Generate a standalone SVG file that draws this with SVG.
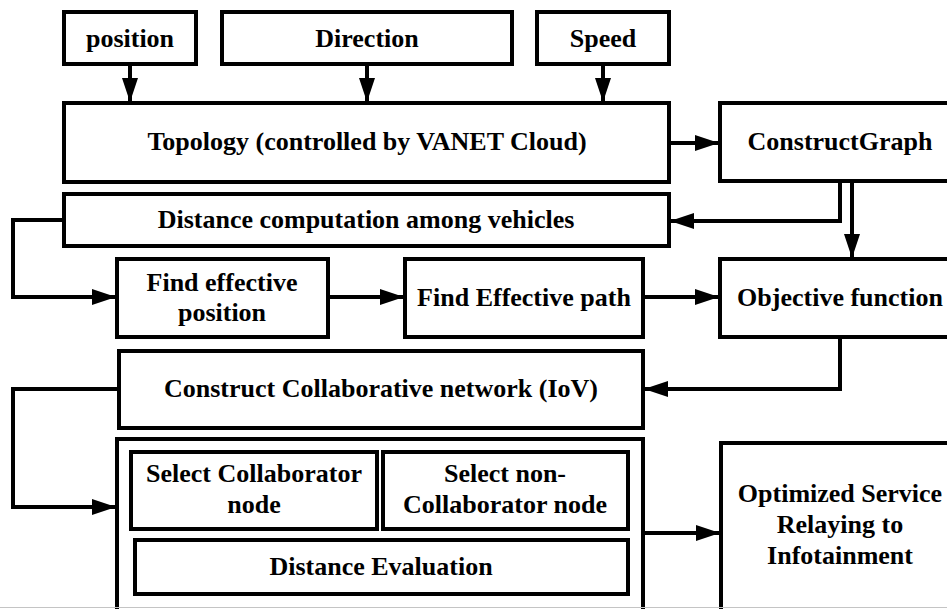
<svg xmlns="http://www.w3.org/2000/svg" width="947" height="609" viewBox="0 0 947 609">
  <style>
    .box { fill: #fff; stroke: #000; stroke-width: 4; }
    .lbl { font-family: "Liberation Serif", "Times New Roman", "DejaVu Serif", serif; font-weight: 700; font-size: 26px; fill: #000; text-anchor: middle; }
    .wire { fill: none; stroke: #000; stroke-width: 4; marker-end: url(#arrow); }
  </style>
  <defs>
    <marker id="arrow" markerUnits="userSpaceOnUse" markerWidth="24" markerHeight="16" refX="24" refY="8" orient="auto">
      <path d="M0,0 L24,8 L0,16 Z" fill="#000"/>
    </marker>
  </defs>
  <rect width="947" height="609" fill="#fff"/>

  <!-- inputs -->
  <g id="position">
    <rect class="box" x="64" y="12" width="132" height="52"/>
    <text class="lbl" x="130" y="47">position</text>
  </g>
  <g id="direction">
    <rect class="box" x="222" y="12" width="290" height="52"/>
    <text class="lbl" x="367" y="47">Direction</text>
  </g>
  <g id="speed">
    <rect class="box" x="537" y="12" width="132" height="52"/>
    <text class="lbl" x="603" y="47">Speed</text>
  </g>

  <g id="topology">
    <rect class="box" x="64" y="103" width="605" height="79"/>
    <text class="lbl" x="367" y="150">Topology (controlled by VANET Cloud)</text>
  </g>
  <g id="construct-graph">
    <rect class="box" x="720" y="103" width="260" height="78"/>
    <text class="lbl" x="840" y="150">ConstructGraph</text>
  </g>

  <g id="distance-computation">
    <rect class="box" x="64" y="194" width="605" height="52"/>
    <text class="lbl" x="366" y="228">Distance computation among vehicles</text>
  </g>

  <g id="find-position">
    <rect class="box" x="117" y="259" width="211" height="78"/>
    <text class="lbl" x="222" y="291">Find effective</text>
    <text class="lbl" x="222" y="321">position</text>
  </g>
  <g id="find-path">
    <rect class="box" x="405" y="259" width="238" height="78"/>
    <text class="lbl" x="524" y="306">Find Effective path</text>
  </g>
  <g id="objective">
    <rect class="box" x="720" y="259" width="260" height="78"/>
    <text class="lbl" x="840" y="306">Objective function</text>
  </g>

  <g id="collab-network">
    <rect class="box" x="119" y="351" width="524" height="77"/>
    <text class="lbl" x="381" y="397">Construct Collaborative network (IoV)</text>
  </g>

  <g id="selection">
    <rect class="box" x="117" y="439" width="526" height="200"/>
    <g id="select-collab">
      <rect class="box" x="131" y="452" width="246" height="77"/>
      <text class="lbl" x="254" y="482">Select Collaborator</text>
      <text class="lbl" x="254" y="513">node</text>
    </g>
    <g id="select-noncollab">
      <rect class="box" x="383" y="452" width="245" height="77"/>
      <text class="lbl" x="505" y="482">Select non-</text>
      <text class="lbl" x="505" y="513">Collaborator node</text>
    </g>
    <g id="distance-eval">
      <rect class="box" x="135" y="540" width="493" height="54"/>
      <text class="lbl" x="381" y="575">Distance Evaluation</text>
    </g>
  </g>

  <g id="optimized-service">
    <rect class="box" x="721" y="443" width="260" height="200"/>
    <text class="lbl" x="840" y="502">Optimized Service</text>
    <text class="lbl" x="840" y="533">Relaying to</text>
    <text class="lbl" x="840" y="564">Infotainment</text>
  </g>

  <g id="connectors">
    <path class="wire" d="M130,64 V102"/>
    <path class="wire" d="M367,64 V102"/>
    <path class="wire" d="M603,64 V102"/>
    <path class="wire" d="M669,143 H719"/>
    <path class="wire" d="M840,181 V221 H670"/>
    <path class="wire" d="M852,181 V258"/>
    <path class="wire" d="M64,220 H13 V297 H116"/>
    <path class="wire" d="M328,297 H404"/>
    <path class="wire" d="M643,297 H719"/>
    <path class="wire" d="M840,337 V389 H644"/>
    <path class="wire" d="M119,389 H13 V507 H116"/>
    <path class="wire" d="M643,533 H720"/>
  </g>

  <line x1="0" y1="607.5" x2="947" y2="607.5" stroke="#c4c4c4" stroke-width="1"/>
</svg>
